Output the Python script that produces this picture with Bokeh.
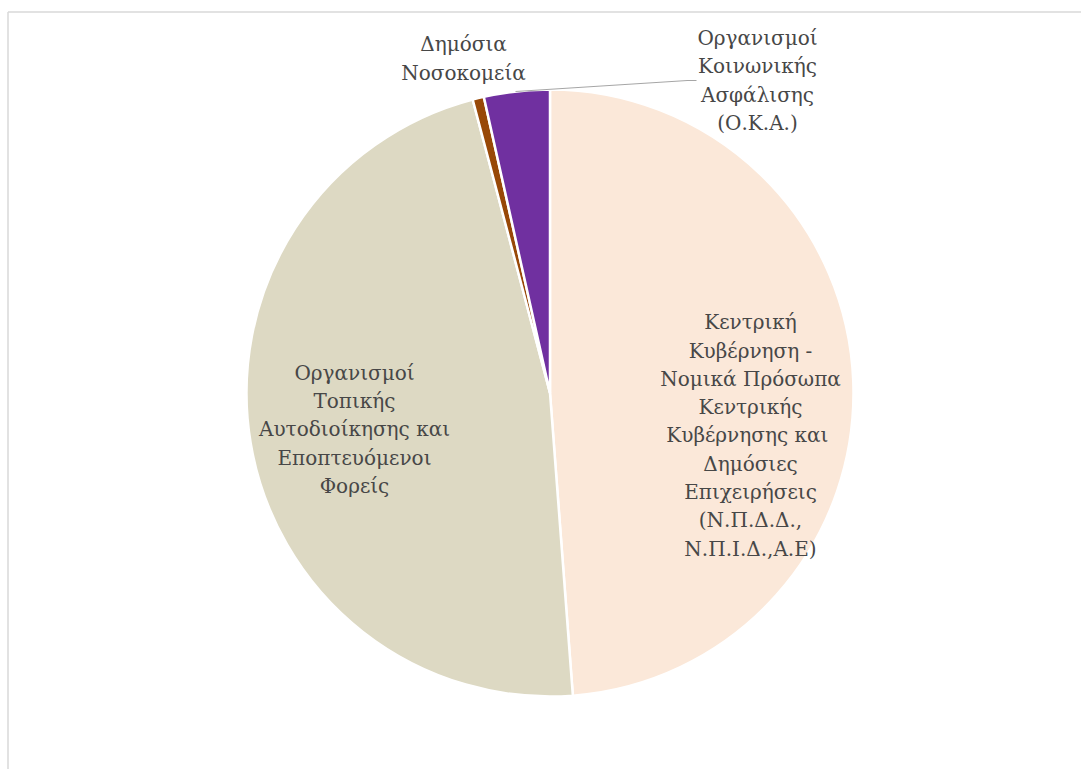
import numpy as np
from bokeh.plotting import figure
from bokeh.models import Range1d, ColumnDataSource
from bokeh.core.properties import value
from bokeh.embed import file_html
from bokeh.resources import INLINE

# ---- data ----
categories = [
    "Κεντρική\nΚυβέρνηση -\nΝομικά Πρόσωπα\nΚεντρικής\nΚυβέρνησης  και\nΔημόσιες\nΕπιχειρήσεις\n(Ν.Π.Δ.Δ.,\nΝ.Π.Ι.Δ.,Α.Ε)",
    "Οργανισμοί\nΤοπικής\nΑυτοδιοίκησης και\nΕποπτευόμενοι\nΦορείς",
    "Δημόσια\nΝοσοκομεία",
    "Οργανισμοί\nΚοινωνικής\nΑσφάλισης\n(Ο.Κ.Α.)",
]
shares = [48.8, 47.1, 0.6, 3.5]
colors = ["#FBE8D9", "#DDD9C3", "#984807", "#7030A0"]

# ---- layout (pixel space, y measured from top) ----
W, H = 1081, 769
CX, CY, R = 549.5, 392.5, 303.5
label_xy = [(750, 435), (354, 429), (463, 58), (757, 80)]
FONT = "DejaVu Serif"
FS = "20px"
TXT = "#474747"

def fy(y):
    return H - y

p = figure(width=W, height=H, output_backend="svg", toolbar_location=None,
           x_range=Range1d(0, W), y_range=Range1d(0, H),
           min_border=0, outline_line_color=None, background_fill_color="white")
p.axis.visible = False
p.grid.visible = False

vals = np.array(shares, dtype=float)
frac = vals / vals.sum()
cum = np.concatenate([[0], np.cumsum(frac)])
start = np.pi / 2 - cum[:-1] * 2 * np.pi
end = np.pi / 2 - cum[1:] * 2 * np.pi

src = ColumnDataSource(dict(start=start, end=end, color=colors))
p.wedge(x=CX, y=fy(CY), radius=R, start_angle="start", end_angle="end",
        direction="clock", fill_color="color", line_color="white",
        line_width=2.5, source=src)

# chart border (left and top visible)
p.segment(x0=[7.5, 7.5], y0=[fy(11.5), fy(11.5)], x1=[7.5, W], y1=[0, fy(11.5)],
          line_color="#D9D9D9", line_width=1.5)

# leader line for Ο.Κ.Α.
p.line(x=[515, 687, 696], y=[fy(91), fy(80), fy(80)], line_color="#A6A6A6", line_width=1.2)

lsrc = ColumnDataSource(dict(x=[l[0] for l in label_xy], y=[fy(l[1]) for l in label_xy],
                             t=categories))
p.text(x="x", y="y", text="t", source=lsrc, text_align="center", text_baseline="middle",
       text_font=value(FONT), text_font_size=FS, text_color=TXT, text_line_height=1.18)

open("out.html", "w").write(file_html(p, INLINE))
